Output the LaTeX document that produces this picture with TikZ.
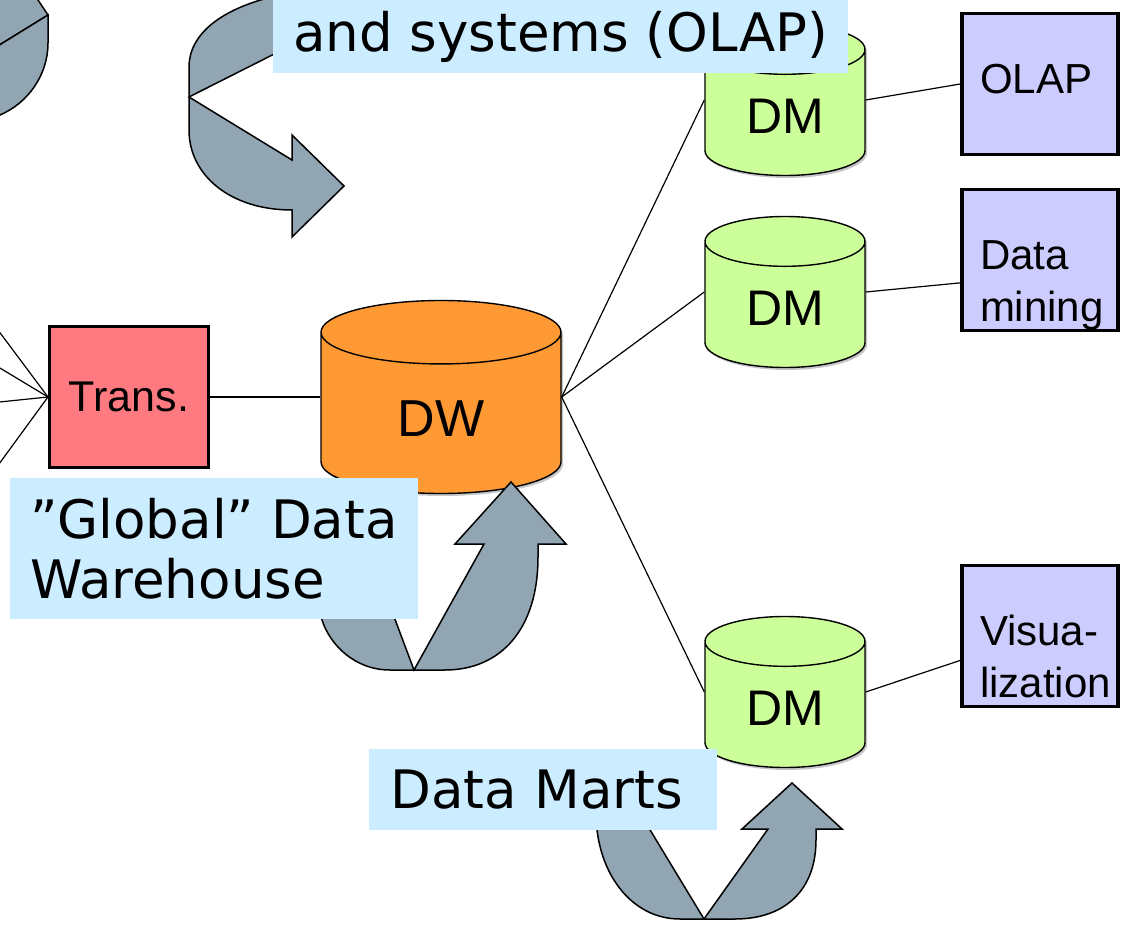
\documentclass[tikz,border=0pt]{standalone}
\usepackage{fontspec}
\setmainfont{Liberation Sans}
\newfontfamily\tagfont{DejaVu Sans}
\usetikzlibrary{shapes.geometric,shadows}

\definecolor{transred}{RGB}{255,122,128}
\definecolor{dworange}{RGB}{255,153,51}
\definecolor{dmgreen}{RGB}{204,255,153}
\definecolor{toolblue}{RGB}{204,204,255}
\definecolor{tagblue}{RGB}{204,236,255}
\definecolor{arrowgray}{RGB}{145,166,178}

\tikzset{
  db/.style={cylinder, shape border rotate=90, draw, line width=1.4pt, anchor=shape center,
    drop shadow={shadow xshift=2pt, shadow yshift=-2.5pt, opacity=0.45}},
  mart/.style={db, fill=dmgreen, minimum width=160pt, minimum height=151pt, aspect=0.59,
    font=\fontsize{50}{60}\selectfont, text height=35pt, text depth=0pt},
  toolbox/.style={rectangle, draw, line width=3.5pt, fill=toolblue,
    minimum width=156pt, minimum height=141pt, text width=120pt, align=left,
    font=\fontsize{42}{52}\selectfont, text height=30pt, text depth=11pt},
  tag/.style={fill=tagblue, font=\tagfont\fontsize{53}{60}\selectfont, inner xsep=20pt},
  bentarrow/.style={draw, fill=arrowgray, line width=1.5pt, line join=miter},
  link/.style={draw, line width=1.2pt}
}

\begin{document}
\begin{tikzpicture}[x=1pt,y=-1pt]
  \useasboundingbox (0,0) rectangle (1125,944);
  \clip (0,0) rectangle (1125,944);

  \node[draw, line width=3pt, fill=transred, minimum width=159pt, minimum height=141pt,
    font=\fontsize{43}{50}\selectfont] (trans) at (129,397) {Trans.};
  \node[db, fill=dworange, minimum width=240pt, minimum height=193pt, aspect=0.68,
    font=\fontsize{52}{60}\selectfont, text height=39pt, text depth=0pt] (dw) at (441,397) {DW};
  \node[mart] (dm1) at (785,100) {DM};
  \node[mart] (dm2) at (785,292) {DM};
  \node[mart] (dm3) at (785,692) {DM};
  \node[toolbox] (olap) at (1040,84) {OLAP};
  \node[toolbox] (mining) at (1040,260) {Data\\mining};
  \node[toolbox] (viz) at (1040,636) {Visua-\\lization};

  % sources off to the left
  \foreach \y [count=\i] in {306,356,404,490} {
    \coordinate (src\i) at (-20,\y);
    \draw[link] (src\i) -- (trans.west);
  }
  \draw[link] (trans.east) -- (dw.shape center -| dw.west);
  \foreach \m in {dm1,dm2,dm3}
    \draw[link] (dw.shape center -| dw.east) -- (\m.shape center -| \m.west);
  \draw[link] (dm1.shape center -| dm1.east) -- (olap.west);
  \draw[link] (dm2.shape center -| dm2.east) -- (mining.196);
  \draw[link] (dm3.shape center -| dm3.east) -- (viz.197);

  % bent arrows
  \draw[bentarrow] (-20,-20) -- (30,-12) -- (48,15) -- (-20,57) -- cycle;
  \draw[bentarrow] (48,15) -- (48,43) .. controls (48,75) and (28,103) .. (0,115)
    -- (-20,120) -- (-20,57) -- cycle;
  \draw[bentarrow] (189,97) -- (292,160) -- (292,135) -- (344,186) -- (292,237) -- (292,210)
    .. controls (230,210) and (189,175) .. (189,130) -- (189,67)
    .. controls (189,35) and (220,8) .. (280,-5) -- (300,-5) -- (300,41) -- cycle;
  \draw[bentarrow] (414,670) -- (484,544) -- (455,544) -- (511,482) -- (566,544) -- (538,544)
    -- (538,557) .. controls (538,630) and (500,670) .. (445,670) -- (390,670)
    .. controls (355,670) and (330,645) .. (322,620) -- (315,590) -- (384,590) -- cycle;
  \draw[bentarrow] (704,919) -- (768,829) -- (742,829) -- (792,783) -- (842,829) -- (816,829)
    -- (816,840) .. controls (816,890) and (785,919) .. (735,919) -- (680,919)
    .. controls (635,919) and (603,880) .. (597,830) -- (596,810) -- (638,810) -- cycle;

  % labels
  \node[tag, anchor=south west, minimum width=575pt, text height=60pt, text depth=13pt,
    inner ysep=8pt] (olaptag) at (273,73) {and systems (OLAP)};
  \node[tag, anchor=north west, minimum width=407pt, minimum height=141pt,
    align=left] (globaltag) at (10,478) {”Global” Data\\Warehouse};
  \node[tag, anchor=north west, minimum width=348pt, minimum height=81pt,
    text width=306pt, align=left] (marttag) at (369,749) {Data Marts};
\end{tikzpicture}
\end{document}
